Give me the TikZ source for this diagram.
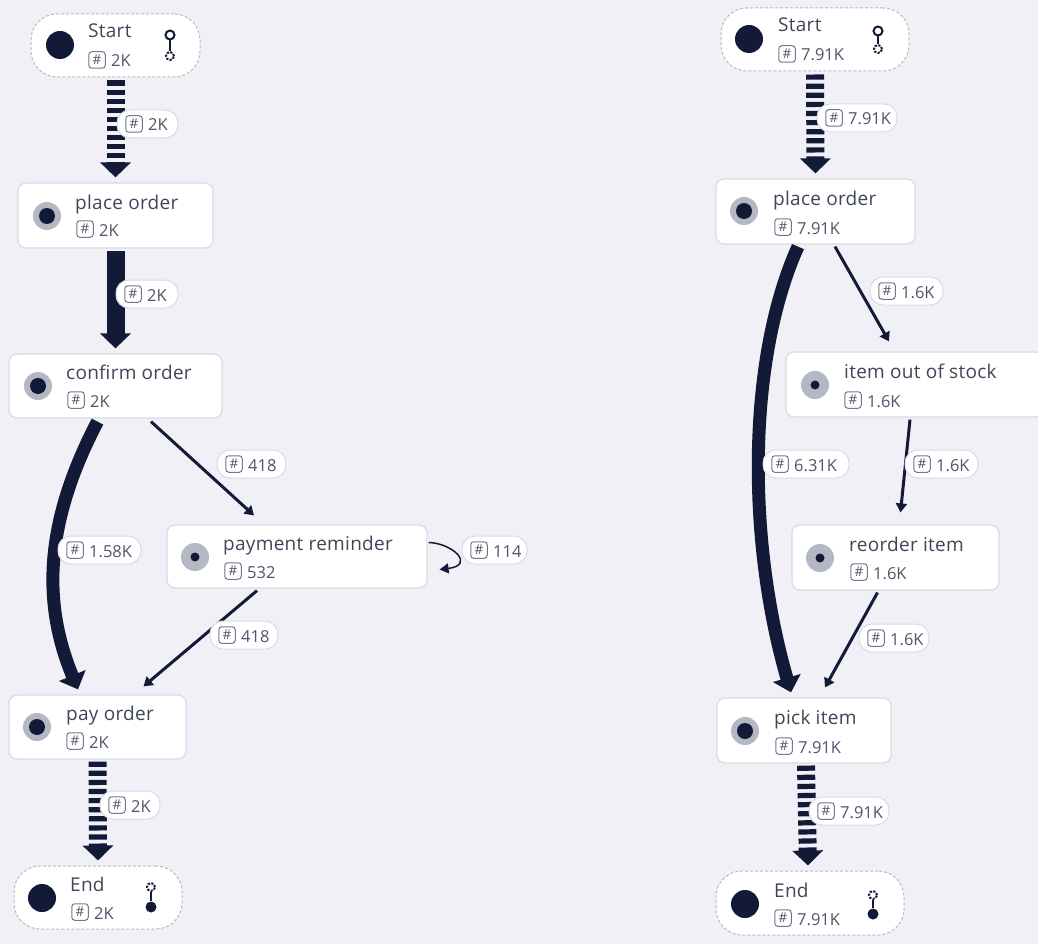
\documentclass[tikz,border=0pt]{standalone}
\usepackage{fontspec}
\setmainfont{Open Sans}
\newfontfamily\titlefam[LetterSpace=1.5]{Open Sans}
\usetikzlibrary{arrows.meta,calc}
\definecolor{bgc}{HTML}{F0F0F6}
\definecolor{navy}{HTML}{121A38}
\definecolor{edgec}{HTML}{DADAE6}
\definecolor{ringc}{HTML}{B4B8C3}
\definecolor{txtc}{HTML}{3F4658}
\definecolor{cntc}{HTML}{4F566A}
\tikzset{
  x=1pt,y=-1pt,
  cardbox/.style={draw=edgec,line width=1.2pt,fill=white,rounded corners=8pt,inner sep=0pt},
  termbox/.style={draw=edgec!85!black,line width=1pt,dashed,dash pattern=on 3pt off 2pt,fill=white,rounded corners=26pt,inner sep=0pt},
  titletxt/.style={anchor=base west,inner sep=0pt,font=\titlefam\fontsize{19}{21}\selectfont,text=txtc},
  counttxt/.style={anchor=base west,inner sep=0pt,font=\fontsize{16.5}{18}\selectfont,text=cntc},
  badge/.style={draw=cntc!80,line width=1pt,fill=white,rounded corners=3pt,minimum size=16.5pt,inner sep=0pt,font=\fontsize{13.5}{13.5}\selectfont,text=cntc},
  pill/.style={draw=edgec,line width=1pt,fill=white,rounded corners=13pt,inner sep=0pt},
  dotn/.style={circle,fill=navy,inner sep=0pt},
  ringn/.style={circle,fill=ringc,inner sep=0pt,minimum size=28pt},
  stripe/.style={navy,line width=18pt,dash pattern=on 5.2pt off 3.9pt,-{Triangle[width=30pt,length=15pt]}},
  solidfat/.style={navy,line width=18pt,-{Triangle[width=30pt,length=15pt]}},
  curvefat/.style={navy,line width=13pt,-{Triangle[width=28pt,length=15pt]}},
  arrowthin/.style={navy,line width=3pt,-{Triangle[width=11pt,length=9pt]}},
  loopthin/.style={navy,line width=1.5pt,-{Triangle[width=10pt,length=9pt]}},
  routeo/.style={circle,draw=navy,line width=2pt,fill=white,inner sep=0pt,minimum size=9pt},
  routed/.style={circle,draw=navy,line width=2pt,dash pattern=on 2.2pt off 1.4pt,fill=white,inner sep=0pt,minimum size=8pt},
  routef/.style={circle,fill=navy,inner sep=0pt,minimum size=11pt},
  routel/.style={navy,line width=2pt},
}
% name, x1,y1,x2,y2, style
\newcommand{\boxn}[6]{\node[#6,minimum width={(#4)*1pt-(#2)*1pt},minimum height={(#5)*1pt-(#3)*1pt}] (#1) at ({((#2)+(#4))/2},{((#3)+(#5))/2}) {};}
% name, x of title, y title, title, x badge, y badge, count
\newcommand{\texts}[7]{%
  \node[titletxt] (#1-t) at (#2,#3+6) {#4};
  \node[badge] (#1-b) at (#5,#6) {\#};
  \node[counttxt] (#1-c) at (#5+14,#6+7) {#7};}
% name, x, y, inner diameter
\newcommand{\ringi}[4]{%
  \node[ringn] (#1-r) at (#2,#3) {};
  \node[dotn,minimum size=#4pt] (#1-d) at (#2,#3) {};}
% name, x1, x2, cy, text
\newcommand{\elabel}[5]{%
  \node[pill,minimum width={(#3)*1pt-(#2)*1pt},minimum height=28pt] (#1) at ({((#2)+(#3))/2},#4) {};
  \node[badge] (#1-b) at (#2+17,#4) {\#};
  \node[counttxt] (#1-c) at (#2+31,#4+7) {#5};}
\begin{document}
\begin{tikzpicture}
\useasboundingbox[fill=bgc] (0,0) rectangle (1038,944);
% ---- left boxes
\boxn{lstart}{31}{14}{200}{77}{termbox}
\boxn{lplace}{18}{183}{213}{248}{cardbox}
\boxn{lconf}{9}{354}{222}{418}{cardbox}
\boxn{lpay}{167}{525}{427}{588}{cardbox}
\boxn{lpayo}{9}{695}{186}{759}{cardbox}
\boxn{lend}{14}{866}{182}{929}{termbox}
% ---- right boxes
\boxn{rstart}{721}{8}{909}{71}{termbox}
\boxn{rplace}{716}{179}{915}{244}{cardbox}
\boxn{ritem}{786}{352}{1044}{417}{cardbox}
\boxn{rreo}{792}{525}{999}{590}{cardbox}
\boxn{rpick}{717}{698}{891}{763}{cardbox}
\boxn{rend}{716}{871}{904}{935}{termbox}
% ---- left edges
\draw[stripe] ([shift={(0,3)}]lstart.south) -- ([shift={(0,-5)}]lplace.north);
\draw[solidfat] ([shift={(0,2)}]lplace.south) -- ([shift={(0,-5)}]lconf.north);
\draw[curvefat] ([shift={(-18,3)}]lconf.south) .. controls (46,520) and (41,600) .. ([shift={(-19.5,-5)}]lpayo.north);
\draw[arrowthin] ([shift={(35.5,3)}]lconf.south) -- ([shift={(-43,-9)}]lpay.north);
\draw[arrowthin] ([shift={(-40,2)}]lpay.south) -- ([shift={(46,-8)}]lpayo.north);
\draw[stripe] ([shift={(0,2)}]lpayo.south) -- ([shift={(0,-5)}]lend.north);
% ---- right edges
\draw[stripe] ([shift={(0,3)}]rstart.south) -- ([shift={(0,-5)}]rplace.north);
\draw[curvefat] ([shift={(-17.5,2)}]rplace.south) .. controls (747,360) and (747,540) .. ([shift={(-13,-5)}]rpick.north);
\draw[arrowthin] ([shift={(19.5,2)}]rplace.south) -- ([shift={(-26,-10)}]ritem.north);
\draw[arrowthin] ([shift={(-5,2)}]ritem.south) -- ([shift={(5,-12)}]rreo.north);
\draw[arrowthin] ([shift={(-18,2)}]rreo.south) -- ([shift={(21,-10)}]rpick.north);
\draw[stripe] ([shift={(2,2)}]rpick.south) -- ([shift={(-2,-5)}]rend.north);
% ---- left contents
\node[dotn,minimum size=28pt] (lstart-d) at (60,45) {};
\texts{lstart}{88}{32}{Start}{97}{60}{2K}
\node[routeo] (lsa) at (170,35) {};
\node[routed] (lsb) at (170,56) {};
\draw[routel] (lsa) -- (lsb);
\ringi{lplace}{47}{216}{16}
\texts{lplace}{75}{203}{place order}{85}{229}{2K}
\ringi{lconf}{38}{386}{16}
\texts{lconf}{66}{373}{confirm order}{76}{400}{2K}
\ringi{lpay}{195}{557}{9}
\texts{lpay}{223}{544}{payment reminder}{233}{571}{532}
\ringi{lpayo}{37}{727}{16}
\texts{lpayo}{66}{714}{pay order}{75}{741}{2K}
\node[dotn,minimum size=28pt] (lend-d) at (42,898) {};
\texts{lend}{70}{885}{End}{80}{912}{2K}
\node[routed] (lea) at (151,887) {};
\node[routef] (leb) at (151,907) {};
\draw[routel] (lea) -- (leb);
% ---- right contents
\node[dotn,minimum size=28pt] (rstart-d) at (749,39) {};
\texts{rstart}{778}{26}{Start}{787}{54}{7.91K}
\node[routeo] (rsa) at (878,31) {};
\node[routed] (rsb) at (878,49) {};
\draw[routel] (rsa) -- (rsb);
\ringi{rplace}{744}{211}{16}
\texts{rplace}{773}{199}{place order}{783}{227}{7.91K}
\ringi{ritem}{815}{385}{9}
\texts{ritem}{844}{372}{item out of stock}{853}{400}{1.6K}
\ringi{rreo}{820}{558}{9}
\texts{rreo}{849}{545}{reorder item}{859}{572}{1.6K}
\ringi{rpick}{745}{731}{16}
\texts{rpick}{774}{718}{pick item}{784}{746}{7.91K}
\node[dotn,minimum size=28pt] (rend-d) at (745,904) {};
\texts{rend}{774}{891}{End}{783}{918}{7.91K}
\node[routed] (rea) at (873,895) {};
\node[routef] (reb) at (873,914) {};
\draw[routel] (rea) -- (reb);
% ---- edge labels
\elabel{e1}{117}{178}{124}{2K}
\elabel{e2}{116}{178}{294}{2K}
\elabel{e3}{217}{286}{464}{418}
\elabel{e4}{58}{141}{550}{1.58K}
\elabel{e5}{462}{527}{550}{114}
\elabel{e6}{210}{278}{635}{418}
\elabel{e7}{100}{160}{805}{2K}
\elabel{e8}{817}{897}{118}{7.91K}
\elabel{e9}{870}{943}{291}{1.6K}
\elabel{e10}{763}{849}{464}{6.31K}
\elabel{e11}{905}{978}{464}{1.6K}
\elabel{e12}{859}{929}{638}{1.6K}
\elabel{e13}{809}{889}{811}{7.91K}
% ---- self loop, drawn over the label's edge as in the picture
\draw[loopthin] ([shift={(1,-14)}]lpay.east) .. controls (452,543) and (476,565) .. ([shift={(12,13)}]lpay.east);
\end{tikzpicture}
\end{document}
